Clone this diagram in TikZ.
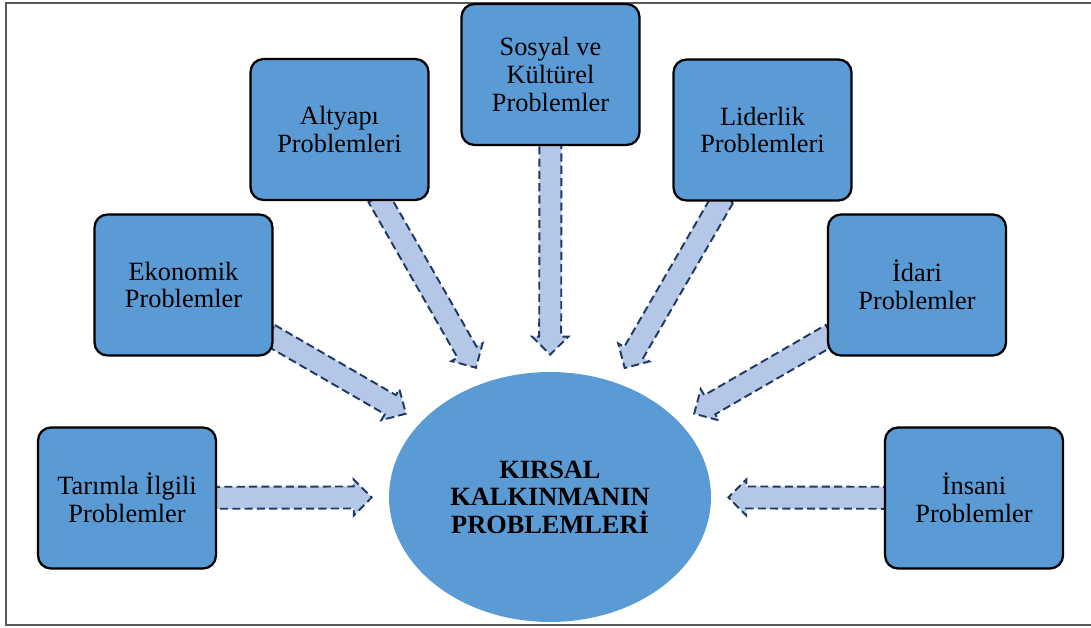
\documentclass[tikz,border=0pt]{standalone}
\usepackage{fontspec}
\setmainfont{Liberation Serif}
\usetikzlibrary{calc,backgrounds,shapes.geometric}
\definecolor{boxblue}{HTML}{5B9BD5}
\definecolor{arrowfill}{HTML}{B4C7E7}
\definecolor{arrowline}{HTML}{1F3864}
\begin{document}
\begin{tikzpicture}[x=0.02cm, y=-0.02cm,
    problem/.style={draw, line width=1.3pt, fill=boxblue, rounded
      corners=0.26cm, minimum width=3.56cm, minimum height=2.82cm,
      align=center, font=\fontsize{15}{15.7}\selectfont},
    barrow/.style={fill=arrowfill, draw=arrowline, line width=1.1pt,
      dash pattern=on 4.6pt off 2.4pt}]
  \useasboundingbox (0,0) rectangle (1091,628);
  \node [ellipse, fill=boxblue, inner sep=0pt, minimum width=6.44cm,
    minimum height=5cm, align=center,
    font=\bfseries\fontsize{15}{15.7}\selectfont] (kirsal) at (550,497)
    {KIRSAL\\KALKINMANIN\\PROBLEMLERİ};
  \begin{scope}[every node/.style={problem}]
    \node (tarim) at (127,498) {Tarımla İlgili\\Problemler}; \node
    (ekonomik) at (183.5,285) {Ekonomik\\Problemler}; \node (altyapi)
    at (339.5,129.5) {Altyapı\\Problemleri}; \node (sosyal) at
    (550.5,74.5) {Sosyal ve\\Kültürel\\Problemler}; \node (liderlik)
    at (762.5,130) {Liderlik\\Problemleri}; \node (idari) at (917,285)
    {İdari\\Problemler}; \node (insani) at (974,498)
    {İnsani\\Problemler};
  \end{scope}
  \begin{pgfonlayer}{background}
    \draw [black!65, line width=0.8pt] (1091,3) -- (6,3) -- (6,625) --
    (1091,625);
    % block arrows from each box towards the centre
    \foreach \s in {tarim, ekonomik, altyapi, sosyal, liderlik, idari,
      insani} {
      \path (\s) -- (kirsal) coordinate [pos=0] (p) coordinate [pos=1]
      (q); \coordinate (a) at ($(p)!-0.1cm!(q)$); \coordinate (t) at
      ($(q)!0.34cm!(p)$); \coordinate (h) at ($(t)!0.36cm!(p)$);
      \draw [barrow] ($(a)!0.22cm!90:(t)$) -- ($(h)!0.22cm!90:(t)$) --
      ($(h)!0.36cm!90:(t)$) -- (t) -- ($(h)!0.36cm!-90:(t)$) --
      ($(h)!0.22cm!-90:(t)$) -- ($(a)!0.22cm!-90:(t)$) -- cycle;
    }
  \end{pgfonlayer}
\end{tikzpicture}
\end{document}
